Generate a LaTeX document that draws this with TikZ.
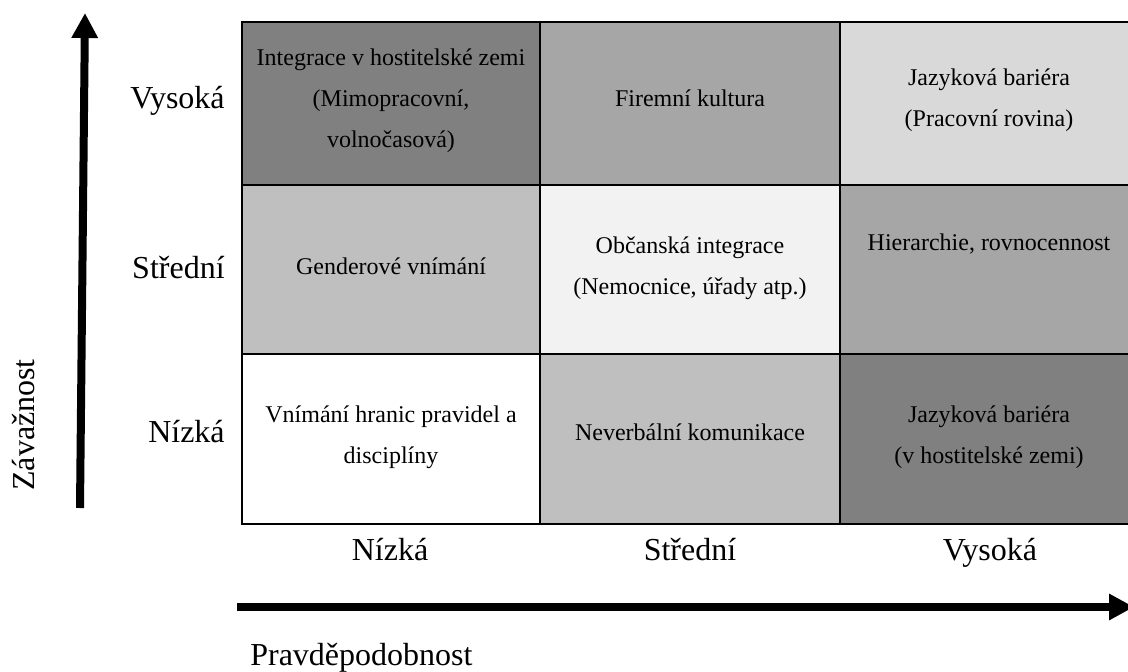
\documentclass[tikz,border=0pt]{standalone}
\usepackage{fontspec}
\setmainfont{Liberation Serif}
\usetikzlibrary{arrows.meta}
\definecolor{tmava}{gray}{0.502}
\definecolor{stredni}{gray}{0.651}
\definecolor{svetla}{gray}{0.749}
\definecolor{bleda}{gray}{0.851}
\definecolor{skorobila}{gray}{0.949}

\begin{document}
\begin{tikzpicture}[x=1pt, y=-1pt, line width=2pt,
    cell/.style={font=\fontsize{24}{41}\selectfont, align=center, anchor=base},
    osa/.style={font=\fontsize{32}{38}\selectfont, anchor=base},
    sipka/.style={line width=8pt, -{Triangle[length=25pt, width=25pt]}}]
    \useasboundingbox (0,0) rectangle (1128,672);

    \fill[tmava]     (242,22)  rectangle (540,185);
    \fill[stredni]   (540,22)  rectangle (840,185);
    \fill[bleda]     (840,22)  rectangle (1140,185);
    \fill[svetla]    (242,185) rectangle (540,354);
    \fill[skorobila] (540,185) rectangle (840,354);
    \fill[stredni]   (840,185) rectangle (1140,354);
    \fill[white]     (242,354) rectangle (540,524);
    \fill[svetla]    (540,354) rectangle (840,524);
    \fill[tmava]     (840,354) rectangle (1140,524);

    \draw (242,22) rectangle (1140,524);
    \draw (540,22) -- (540,524)
          (840,22) -- (840,524)
          (242,185) -- (1140,185)
          (242,354) -- (1140,354);

    \node[cell] (ihz) at (391,147) {Integrace v hostitelské zemi\\(Mimopracovní,\\volnočasová)};
    \node[cell] (fk)  at (690,106) {Firemní kultura};
    \node[cell] (jbp) at (989,126) {Jazyková bariéra\\(Pracovní rovina)};
    \node[cell] (gv)  at (391,274) {Genderové vnímání};
    \node[cell] (oi)  at (690,294) {Občanská integrace\\(Nemocnice, úřady atp.)};
    \node[cell] (hr)  at (989,250) {Hierarchie, rovnocennost};
    \node[cell] (vh)  at (391,463) {Vnímání hranic pravidel a\\disciplíny};
    \node[cell] (nk)  at (690,440) {Neverbální komunikace};
    \node[cell] (jbh) at (989,463) {Jazyková bariéra\\(v hostitelské zemi)};

    \node[osa, anchor=base east] (zvys) at (229,108) {Vysoká};
    \node[osa, anchor=base east] (zstr) at (229,278) {Střední};
    \node[osa, anchor=base east] (zniz) at (229,442) {Nízká};

    \node[osa] (pniz) at (390,560) {Nízká};
    \node[osa] (pstr) at (690,560) {Střední};
    \node[osa] (pvys) at (990,560) {Vysoká};

    \node[osa, anchor=center, rotate=90] (zav) at (24,425) {Závažnost};
    \node[osa, anchor=base west] (prav) at (246,665) {Pravděpodobnost};

    \coordinate (y0) at (80,508);
    \coordinate (y1) at (85,13);
    \coordinate (x0) at (237,607);
    \coordinate (x1) at (1134,607);
    \draw[sipka] (y0) -- (y1);
    \draw[sipka] (x0) -- (x1);
\end{tikzpicture}
\end{document}
